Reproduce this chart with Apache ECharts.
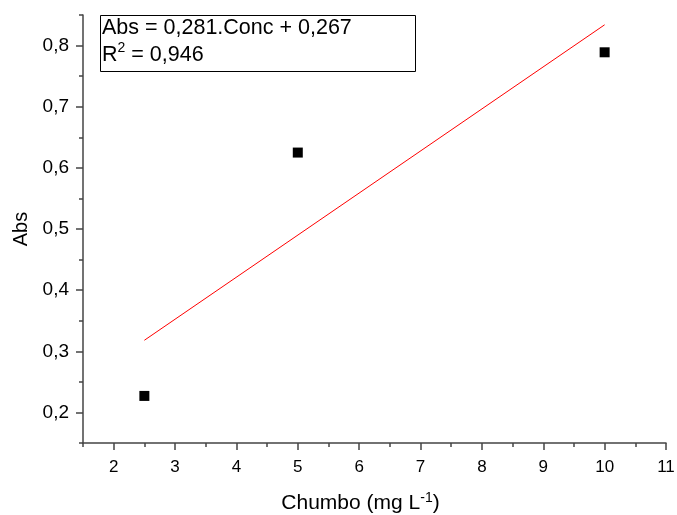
<!DOCTYPE html>
<html>
<head>
<meta charset="utf-8">
<script src="https://cdn.jsdelivr.net/npm/echarts@6/dist/echarts.min.js"></script>
<style>
  html, body { margin: 0; padding: 0; background: #fff; }
  #chart { width: 677px; height: 515px; }
</style>
</head>
<body>
<div id="chart"></div>
<script>
// pontos medidos
var concData = [2.5, 5, 10]
var absData = [0.227, 0.625, 0.789]
// reta de ajuste (como desenhada)
var fitX = [2.5, 10]
var fitY = [0.318, 0.834]
// rotulos dos eixos
var xTicks = [2, 3, 4, 5, 6, 7, 8, 9, 10, 11]
var yTicks = [0.2, 0.3, 0.4, 0.5, 0.6, 0.7, 0.8]

var comma = function (v, d) { return v.toFixed(d).replace('.', ',') }
var font = 'Liberation Sans, Arial, sans-serif'
var axisColor = '#444'

var myChart = echarts.init(document.getElementById('chart'))
myChart.setOption({
  backgroundColor: '#fff',
  animation: false,
  grid: { left: 83, right: 11, top: 15, bottom: 72, outerBoundsMode: 'none', containLabel: false },
  xAxis: [{
    type: 'value',
    min: 1.5,
    max: 11,
    position: 'bottom',
    name: '{a|Chumbo (mg L}{s|-1}{a|)}',
    nameLocation: 'middle',
    nameGap: 48,
    nameTextStyle: {
      padding: [0, 28, 0, 0],
      rich: {
        a: { fontFamily: font, fontSize: 21, color: '#000' },
        s: { fontFamily: font, fontSize: 14, color: '#000', verticalAlign: 'top', padding: [0, 0, 10, 0] }
      }
    },
    axisLine: { lineStyle: { color: axisColor, width: 1.5 } },
    axisTick: { customValues: xTicks, length: 7, lineStyle: { color: axisColor, width: 1.5 } },
    axisLabel: {
      customValues: xTicks,
      margin: 16,
      fontFamily: font,
      fontSize: 17,
      color: '#000',
      formatter: function (v) { return comma(v, 0) }
    },
    splitLine: { show: false }
  }, {
    type: 'value',
    min: 1.5,
    max: 11,
    interval: 0.5,
    position: 'bottom',
    axisLine: { show: false },
    axisTick: { length: 4, lineStyle: { color: axisColor, width: 1.5 } },
    axisLabel: { show: false },
    splitLine: { show: false }
  }],
  yAxis: [{
    type: 'value',
    min: 0.15,
    max: 0.85,
    position: 'left',
    name: 'Abs',
    nameLocation: 'middle',
    nameRotate: 90,
    nameGap: 52,
    nameTextStyle: { fontFamily: font, fontSize: 20, color: '#000' },
    axisLine: { show: true, lineStyle: { color: axisColor, width: 1.5 } },
    axisTick: { show: true, customValues: yTicks, length: 7, lineStyle: { color: axisColor, width: 1.5 } },
    axisLabel: {
      customValues: yTicks,
      margin: 14,
      fontFamily: font,
      fontSize: 19,
      color: '#000',
      formatter: function (v) { return comma(v, 1) }
    },
    splitLine: { show: false }
  }, {
    type: 'value',
    min: 0.15,
    max: 0.85,
    interval: 0.05,
    position: 'left',
    axisLine: { show: false },
    axisTick: { show: true, length: 4, lineStyle: { color: axisColor, width: 1.5 } },
    axisLabel: { show: false },
    splitLine: { show: false }
  }],
  series: [{
    name: 'ajuste',
    type: 'line',
    data: fitX.map(function (x, i) { return [x, fitY[i]] }),
    symbol: 'none',
    lineStyle: { color: '#ff0000', width: 1 },
    z: 2
  }, {
    name: 'Abs',
    type: 'scatter',
    data: concData.map(function (x, i) { return [x, absData[i]] }),
    symbol: 'rect',
    symbolSize: 10,
    itemStyle: { color: '#000', opacity: 1 },
    z: 3
  }],
  graphic: [{
    type: 'rect',
    left: 100,
    top: 15,
    shape: { width: 315, height: 56 },
    style: { fill: '#fff', stroke: '#000', lineWidth: 1 },
    z: 10
  }, {
    type: 'text',
    left: 102,
    top: 17,
    style: {
      text: '{a|Abs = 0,281.Conc + 0,267}\n{a|R}{s|2}{a| = 0,946}',
      rich: {
        a: { fontFamily: font, fontSize: 21.5, color: '#000', lineHeight: 27 },
        s: { fontFamily: font, fontSize: 14, color: '#000', verticalAlign: 'top', lineHeight: 27, padding: [0, 0, 11, 0] }
      }
    },
    z: 11
  }]
})
</script>
</body>
</html>
